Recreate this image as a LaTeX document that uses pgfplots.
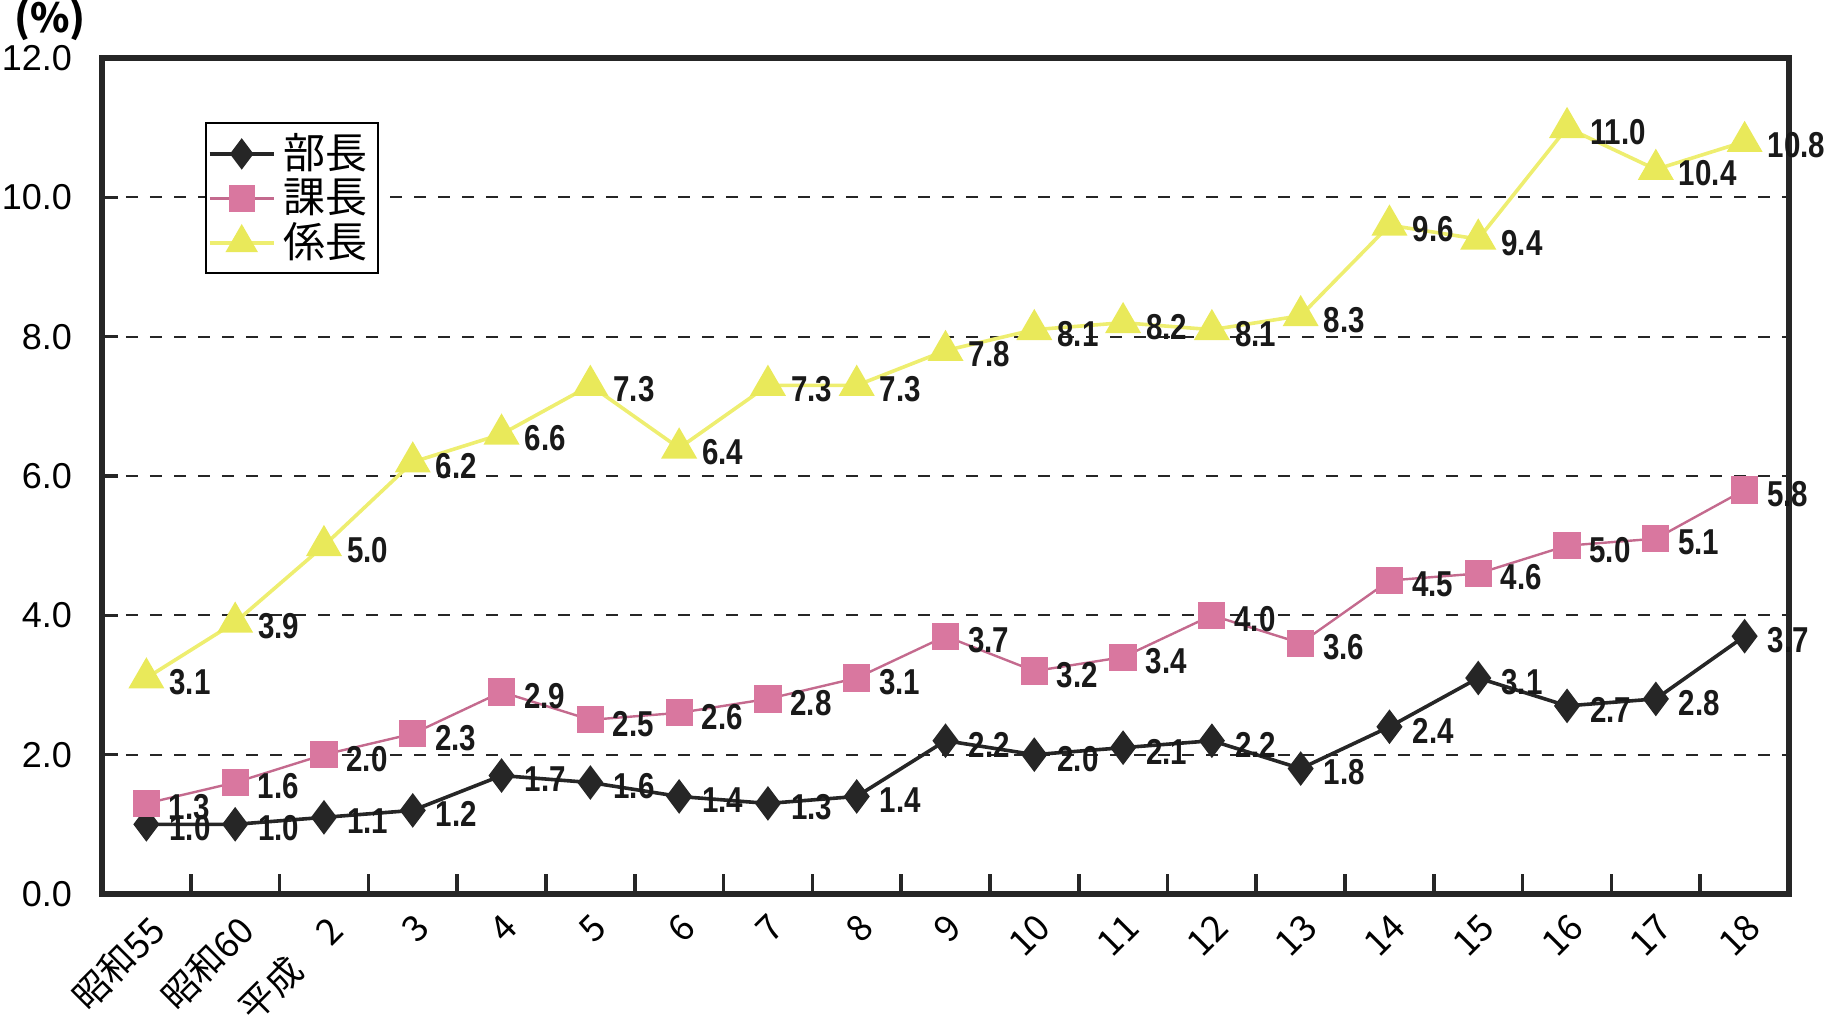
\documentclass[border=0pt]{standalone}
\usepackage{fontspec}
\setmainfont{Liberation Sans}
\newfontfamily\jp{Noto Sans CJK JP}
\newfontfamily\narrow[FakeStretch=0.82]{Liberation Sans}
\usepackage{pgfplots}
\pgfplotsset{compat=1.18}
\definecolor{buchoC}{HTML}{262626}
\definecolor{kachoL}{HTML}{C46A8E}
\definecolor{kachoM}{HTML}{D9779F}
\definecolor{kakariL}{HTML}{EEEE70}
\definecolor{kakariM}{HTML}{E9E95A}
\pgfplotstableread{
x bucho kacho kakari
0 1.0 1.3 3.1
1 1.0 1.6 3.9
2 1.1 2.0 5.0
3 1.2 2.3 6.2
4 1.7 2.9 6.6
5 1.6 2.5 7.3
6 1.4 2.6 6.4
7 1.3 2.8 7.3
8 1.4 3.1 7.3
9 2.2 3.7 7.8
10 2.0 3.2 8.1
11 2.1 3.4 8.2
12 2.2 4.0 8.1
13 1.8 3.6 8.3
14 2.4 4.5 9.6
15 3.1 4.6 9.4
16 2.7 5.0 11.0
17 2.8 5.1 10.4
18 3.7 5.8 10.8
}\datatable
\begin{document}
\begin{tikzpicture}
\begin{axis}[name=ax, scale only axis, width=421.75pt, height=209pt,
  xmin=-0.5, xmax=18.5, ymin=0, ymax=12,
  axis line style={line width=1.3pt, black!85},
  xtick={0,...,18},
  xticklabels={昭和55,昭和60,平成\quad 2,3,4,5,6,7,8,9,10,11,12,13,14,15,16,17,18},
  xticklabel style={font=\jp\fontsize{9}{10}\selectfont, rotate=45, anchor=north east, inner sep=0pt, yshift=-3pt, xshift=-3pt},
  every major x tick/.style={draw=none},
  minor xtick={0.5,1.5,...,17.5},
  every minor x tick/.style={black!85, line width=0.9pt},
  minor tick length=5pt,
  xtick pos=bottom, ytick pos=left,
  ytick={0,2,...,12},
  major tick length=4pt,
  every major y tick/.style={black!85, line width=0.9pt},
  yticklabel style={font=\fontsize{9}{10}\selectfont, xshift=-4pt},
  ymajorgrids, grid style={dashed, black!85, line width=0.5pt},
  /pgf/number format/.cd, fixed, fixed zerofill, precision=1, assume math mode=true, /pgfplots/.cd,
  nodes near coords,
  every node near coord/.append style={anchor=west, font=\narrow\bfseries\fontsize{9}{10}\selectfont, text=black!90, xshift=2pt, yshift=-1pt},
  legend style={at={(0.061,0.923)}, anchor=north west, draw=black, line width=0.5pt, font=\jp\fontsize{10.5}{12}\selectfont, inner sep=0.5pt, row sep=-3pt, cells={anchor=west}},
  legend image code/.code={\draw[#1] (0pt,0pt) -- (16pt,0pt); \draw[#1, line width=0.4pt] plot coordinates {(8pt,0pt)};},
]
\addplot[buchoC, line width=0.9pt, mark=diamond*, mark size=3.6pt, mark options={fill=buchoC, draw=buchoC}] table[x=x, y=bucho] {\datatable};
\addlegendentry{部長}
\addplot[kachoL, line width=0.6pt, mark=square*, mark size=3.1pt, mark options={fill=kachoM, draw=kachoM}] table[x=x, y=kacho] {\datatable};
\addlegendentry{課長}
\addplot[kakariL, line width=0.9pt, mark=triangle*, mark size=4.3pt, mark options={fill=kakariM, draw=kakariM}] table[x=x, y=kakari] {\datatable};
\addlegendentry{係長}
\end{axis}
\node[font=\jp\bfseries\fontsize{10}{12}\selectfont, anchor=center] at ([xshift=-13pt, yshift=9.5pt]ax.north west) {(\%)};
\pgfresetboundingbox
\path[use as bounding box] ([xshift=-25.5pt, yshift=-32pt]ax.south west) rectangle ([xshift=9pt, yshift=14.5pt]ax.north east);
\end{tikzpicture}
\end{document}
